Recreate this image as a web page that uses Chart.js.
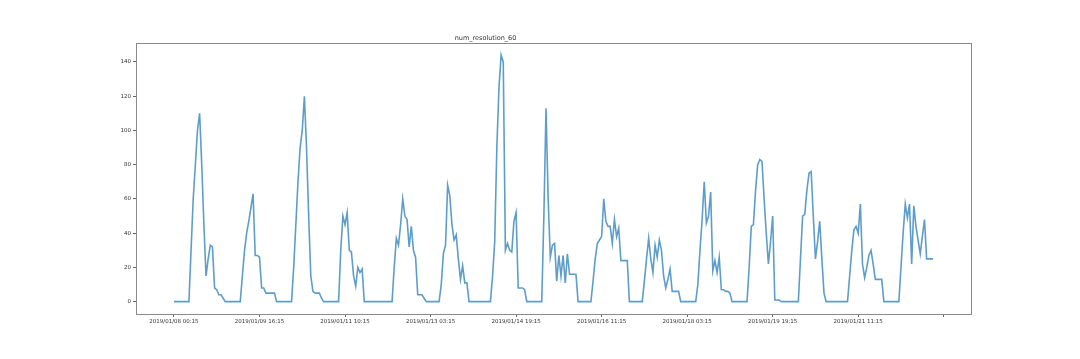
<!DOCTYPE html>
<html>
<head>
<meta charset="utf-8">
<title>num_resolution_60</title>
<script src="https://cdn.jsdelivr.net/npm/chart.js@4.4.1/dist/chart.umd.min.js"></script>
<style>
    html, body { margin: 0; padding: 0; background: #fff; }
    #chart { display: block; }
</style>
</head>
<body>
<canvas id="chart" width="1080" height="359"></canvas>
<script>
// hourly counts, one block per 40 samples (one block between two x ticks)
const block0 = [0,0,0,0,0,0,0, 0,30,60,80,100,110,80,45,15,25,33,32,8,7,4,4,2,0, 0,0,0,0,0,0, 0,15,30,40,47,55,63,27,27];
const block1 = [26,8,8,5,5,5,5,5,0, 0,0,0,0,0,0, 0,20,45,70,90,100,120,90,50,15,6,5,5,5,2,0, 0,0,0,0,0,0, 0,30,50];
const block2 = [45,52,30,29,15,9,20,17,19,0, 0,0,0,0,0,0,0,0,0,0,0,0, 0,20,37,33,45,60,50,48,32,44,30,26,4,4,4,2,0, 0];
const block3 = [0,0,0,0, 0,10,28,33,68,62,45,36,39,25,13,21,11,11,0, 0,0,0,0,0,0,0,0,0, 0,15,35,90,125,144,140,30,34,30,29,47];
const block4 = [52,8,8,8,7,0, 0,0,0,0,0,0, 0,50,113,60,26,33,34,12,27,15,27,11,28,16,16,16,16,0, 0,0,0,0,0, 0,12,25,34,36];
const block5 = [38,60,47,44,44,34,48,38,43,24,24,24,24,0, 0,0,0,0,0, 0,12,25,37,25,17,33,26,36,30,15,8,13,19,6,6,6,6,0, 0,0];
const block6 = [0,0,0,0, 0,10,30,48,70,46,50,64,18,24,17,26,7,7,6,6,5,0, 0,0,0,0,0,0, 0,20,44,45,65,80,83,82,60,40,22,35];
const block7 = [50,1,1,1,0, 0,0,0,0,0,0,0, 0,25,50,51,65,75,76,50,25,35,47,25,5,0, 0,0,0,0,0,0,0,0,0, 0,15,30,42,44];
const block8 = [40,57,22,14,20,27,30,22,13,13,13,13,0, 0,0,0,0,0,0, 0,20,40,57,49,57,22,56,44,36,28,38,48,25,25,25,25];

// x tick every 40 samples; the last tick (360) is past the data and has no label
const xTickLabels = [
    '2019/01/08 00:15', '2019/01/09 16:15', '2019/01/11 10:15',
    '2019/01/13 03:15', '2019/01/14 19:15', '2019/01/16 11:15',
    '2019/01/18 03:15', '2019/01/19 19:15', '2019/01/21 11:15', ''
];
const yTickValues = [0, 20, 40, 60, 80, 100, 120, 140];
const chartTitle = 'num_resolution_60';
const seriesLabel = 'num_resolution_60';

(function(){
    const TICK_STEP = 40;
    const values = [].concat(block0, block1, block2, block3, block4, block5, block6, block7, block8);
    const points = values.map((v, i) => ({ x: i, y: v }));

    // matplotlib style 5% margins on both axes
    const n = values.length - 1;
    const yMax = Math.max(...values);
    const xPad = n * 0.05, yPad = yMax * 0.05;

    // draws the top and right spines too
    const boxPlugin = {
        id: 'box',
        afterDatasetsDraw(chart){
            const a = chart.chartArea, ctx = chart.ctx;
            ctx.save();
            ctx.strokeStyle = '#8a8a8a';
            ctx.lineWidth = 1;
            ctx.strokeRect(Math.round(a.left) + 0.5, Math.round(a.top) + 0.5,
                Math.round(a.right - a.left), Math.round(a.bottom - a.top));
            ctx.restore();
        }
    };

    const tickFont = { family: 'DejaVu Sans', size: 5.5 };

    new Chart(document.getElementById('chart'), {
        type: 'line',
        data: {
            datasets: [{
                label: seriesLabel,
                data: points,
                borderColor: 'rgba(31,119,180,0.72)',
                borderWidth: 1.6,
                pointRadius: 0,
                tension: 0,
                fill: false
            }]
        },
        options: {
            responsive: false,
            animation: false,
            layout: { padding: { left: 0, top: 0, right: 109, bottom: 0 } },
            plugins: {
                legend: { display: false },
                tooltip: { enabled: false },
                title: {
                    display: true,
                    text: chartTitle,
                    color: '#333',
                    font: { family: 'DejaVu Sans', size: 6.5, weight: 'normal' },
                    padding: { top: 34, bottom: 1 }
                }
            },
            scales: {
                x: {
                    type: 'linear',
                    min: -xPad,
                    max: n + xPad,
                    afterBuildTicks: (s) => { s.ticks = xTickLabels.map((_, k) => ({ value: k * TICK_STEP })); },
                    afterFit: (s) => { s.height = 45; },
                    ticks: {
                        autoSkip: false,
                        maxRotation: 0,
                        color: '#333',
                        font: tickFont,
                        padding: 1,
                        callback: (value) => xTickLabels[Math.round(value / TICK_STEP)] || ''
                    },
                    grid: { drawOnChartArea: false, drawTicks: true, tickLength: 3, color: '#666' },
                    border: { display: false }
                },
                y: {
                    min: -yPad,
                    max: yMax + yPad,
                    afterBuildTicks: (s) => { s.ticks = yTickValues.map(v => ({ value: v })); },
                    afterFit: (s) => { s.width = 136; },
                    ticks: { color: '#333', font: tickFont, padding: 2 },
                    grid: { drawOnChartArea: false, drawTicks: true, tickLength: 3, color: '#666' },
                    border: { display: false }
                }
            }
        },
        plugins: [boxPlugin]
    });
})();
</script>
</body>
</html>
